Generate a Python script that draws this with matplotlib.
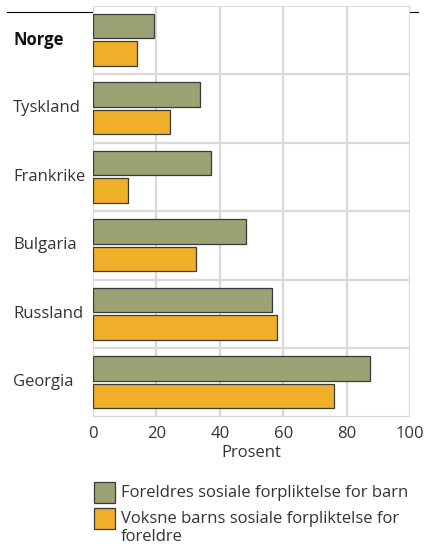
import matplotlib.pyplot as plt
from matplotlib.patches import Rectangle
from matplotlib.lines import Line2D
import numpy as np

# data
countries = ["Norge", "Tyskland", "Frankrike", "Bulgaria", "Russland", "Georgia"]
foreldre_til_barn = [19.2, 33.6, 37.3, 48.3, 56.6, 87.5]
barn_til_foreldre = [13.9, 24.4, 11.1, 32.6, 57.9, 76.1]
series_names = ["Foreldres sosiale forpliktelse for barn",
                "Voksne barns sosiale forpliktelse for\nforeldre"]
series_colors = ["#9DA274", "#EFAF28"]
x_ticks = [0, 20, 40, 60, 80, 100]

plt.rcParams['font.family'] = ['Open Sans', 'DejaVu Sans']
text_col = "#333333"
grid_col = "#D9D9D9"
fs = 12

fig = plt.figure(figsize=(4.28, 5.48), dpi=100)
ax = fig.add_axes([93 / 428, 1 - 416.5 / 548, 317 / 428, 411 / 548])

y = np.arange(len(countries))
h = 0.36
ax.barh(y - 0.2, foreldre_til_barn, height=h, color=series_colors[0],
        edgecolor="#3a3a3a", linewidth=0.9, zorder=3)
ax.barh(y + 0.2, barn_til_foreldre, height=h, color=series_colors[1],
        edgecolor="#3a3a3a", linewidth=0.9, zorder=3)

ax.set_xlim(0, 100)
ax.set_ylim(len(countries) - 0.5, -0.5)

# grid: vertical at ticks, horizontal between groups
for xv in x_ticks:
    ax.axvline(xv, color=grid_col, lw=1.6, zorder=1)
for yb in np.arange(-0.5, len(countries), 1.0):
    ax.axhline(yb, color=grid_col, lw=1.6, zorder=1)

for s in ax.spines.values():
    s.set_visible(False)

ax.set_xticks(x_ticks)
ax.set_xticklabels([str(v) for v in x_ticks], fontsize=fs, color=text_col)
ax.tick_params(axis="x", length=0, pad=7)
ax.set_yticks([])
ax.set_xlabel("Prosent", fontsize=fs, color=text_col, labelpad=2)

# country labels, left aligned
for i, name in enumerate(countries):
    ax.text(-0.252, i, name, transform=ax.get_yaxis_transform(), ha="left",
            va="center", fontsize=fs, color="#111111" if name == "Norge" else text_col,
            fontweight="bold" if name == "Norge" else "normal")

# black line at the top
fig.add_artist(Line2D([7.5 / 428, 418 / 428], [1 - 12 / 548, 1 - 12 / 548],
                      color="black", lw=0.8, transform=fig.transFigure, zorder=0))

# legend drawn by hand
W, H = 428, 548
leg_y = [481.7, 507.5]
for (ty, name, col) in zip(leg_y, series_names, series_colors):
    fig.add_artist(Rectangle((93.5 / W, 1 - (ty + 21.5) / H), 21.5 / W, 21.5 / H,
                             facecolor=col, edgecolor="#3a3a3a", lw=0.9,
                             transform=fig.transFigure))
    fig.text(121 / W, 1 - (ty + 11.5) / H, name.split("\n")[0], ha="left",
             va="center", fontsize=fs, color=text_col)
    if "\n" in name:
        fig.text(121 / W, 1 - (ty + 29.5) / H, name.split("\n")[1], ha="left",
                 va="center", fontsize=fs, color=text_col)

fig.savefig("out.png", dpi=100)
